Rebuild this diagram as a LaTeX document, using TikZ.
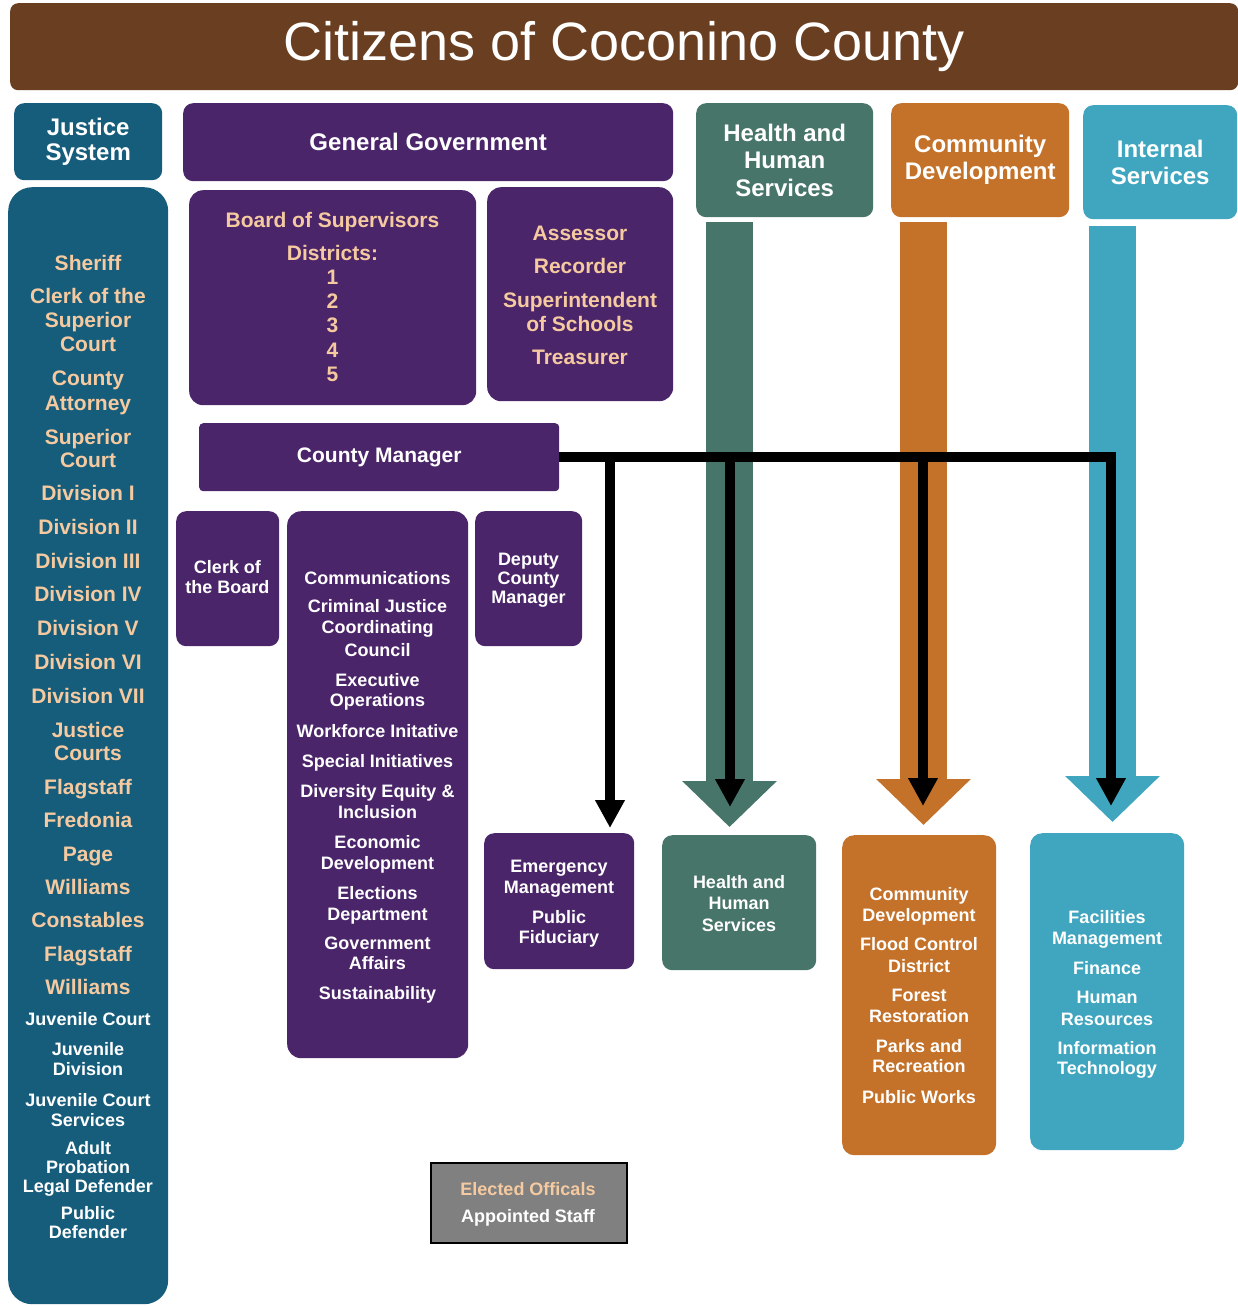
\documentclass[tikz,border=0pt]{standalone}
\usepackage{fontspec}
\setmainfont{Liberation Sans}
\usetikzlibrary{arrows.meta}
\definecolor{cbrown}{RGB}{106,62,32}
\definecolor{cjust}{RGB}{22,93,124}
\definecolor{cpurple}{RGB}{75,37,105}
\definecolor{cgreen}{RGB}{71,117,106}
\definecolor{corange}{RGB}{196,114,42}
\definecolor{clblue}{RGB}{64,166,191}
\definecolor{cpeach}{RGB}{245,202,160}
\definecolor{cgray}{RGB}{128,128,128}
\begin{document}
\begin{tikzpicture}[x=1pt,y=-1pt,
  box/.style={draw=none, rounded corners=10pt, anchor=north west, inner sep=0pt, text=white, align=center},
  hdr/.style={font=\bfseries\fontsize{24}{27}\selectfont},
  ta/.style={font=\bfseries\fontsize{21}{24}\selectfont, inner sep=0pt, anchor=base},
  tb/.style={font=\bfseries\fontsize{18}{20}\selectfont, inner sep=0pt, anchor=base},
  fat/.style={line width=47pt, -{Triangle[width=92pt,length=46pt]}},
  blk/.style={line width=10pt, draw=black, line join=miter},
  blkarr/.style={blk, -{Triangle[width=28pt,length=28pt]}}]
\useasboundingbox (0,0) rectangle (1238,1306);

% title
\node[box, fill=cbrown, rounded corners=8pt, minimum width=1228pt, minimum height=87pt,
  font=\fontsize{54}{60}\selectfont] (title) at (10,3) {Citizens of Coconino County};

% headers
\node[box, fill=cjust, minimum width=148pt, minimum height=77pt, hdr, font=\bfseries\fontsize{24}{25}\selectfont] (js) at (14,103) {Justice\\System};
\node[box, fill=cpurple, minimum width=490pt, minimum height=78pt, hdr] (gg) at (183,103) {General Government};
\node[box, fill=cgreen, minimum width=177pt, minimum height=114pt, hdr, font=\bfseries\fontsize{24}{27.5}\selectfont] (hhs) at (696,103) {Health and\\Human\\Services};
\node[box, fill=corange, minimum width=178pt, minimum height=114pt, hdr] (cd) at (891,103) {Community\\Development};
\node[box, fill=clblue, minimum width=154pt, minimum height=114pt, hdr] (is) at (1083,105) {Internal\\Services};

% body boxes
\node[box, fill=cjust, rounded corners=24pt, minimum width=160pt, minimum height=1117pt] (jl) at (8,187) {};
\node[box, fill=cpurple, rounded corners=14pt, minimum width=287pt, minimum height=215pt] (bos) at (189,190) {};
\node[box, fill=cpurple, rounded corners=14pt, minimum width=186pt, minimum height=214pt] (ass) at (487,187) {};
\node[box, fill=cpurple, rounded corners=4pt, minimum width=360pt, minimum height=68pt,
  font=\bfseries\fontsize{21}{24}\selectfont] (cm) at (199,423) {County Manager};
\node[box, fill=cpurple, minimum width=103pt, minimum height=135pt] (clb) at (176,511) {};
\node[box, fill=cpurple, rounded corners=14pt, minimum width=181pt, minimum height=547pt] (ops) at (287,511) {};
\node[box, fill=cpurple, minimum width=107pt, minimum height=135pt] (dcm) at (475,511) {};
\node[box, fill=cpurple, minimum width=150pt, minimum height=136pt] (em) at (484,833) {};
\node[box, fill=cgreen, minimum width=154pt, minimum height=135pt] (hhsl) at (662,835) {};
\node[box, fill=corange, rounded corners=12pt, minimum width=154pt, minimum height=320pt] (cdl) at (842,835) {};
\node[box, fill=clblue, rounded corners=12pt, minimum width=154pt, minimum height=317pt] (isl) at (1030,833) {};
\node[box, fill=cgray, draw=black, line width=1.5pt, rounded corners=0pt, minimum width=196pt, minimum height=80pt] (leg) at (430,1162) {};

% fat arrows
\coordinate (fa1) at (729.5,222); \coordinate (fb1) at (729.5,827);
\coordinate (fa2) at (923.5,222); \coordinate (fb2) at (923.5,825);
\coordinate (fa3) at (1112.5,226); \coordinate (fb3) at (1112.5,822);
\draw[fat, draw=cgreen, fill=cgreen] (fa1) -- (fb1);
\draw[fat, draw=corange, fill=corange] (fa2) -- (fb2);
\draw[fat, draw=clblue, fill=clblue] (fa3) -- (fb3);

% black connectors
\coordinate (j1) at (610,457); \coordinate (t1) at (610,828);
\coordinate (j2) at (730,457); \coordinate (t2) at (730,807);
\coordinate (j3) at (923,457); \coordinate (t3) at (923,806);
\coordinate (t4) at (1111,806);
\draw[blkarr] (cm.east) -| (t4);
\draw[blkarr] (j1) -- (t1);
\draw[blkarr] (j2) -- (t2);
\draw[blkarr] (j3) -- (t3);

% justice list
\foreach \ty/\tx [count=\i] in {263/Sheriff,296/Clerk of the,320/Superior,344/Court,378/County,403/Attorney,437/Superior,460/Court,493/Division I,527/Division II,561/Division III,594/Division IV,628/Division V,662/Division VI,696/Division VII,730/Justice,753/Courts,787/Flagstaff,820/Fredonia,854/Page,887/Williams,920/Constables,954/Flagstaff,987/Williams}
  \node[ta, text=cpeach] (ja\i) at (88,\ty+7) {\tx};
\foreach \ty/\tx [count=\i] in {1019/Juvenile Court,1049/Juvenile,1069/Division,1100/Juvenile Court,1120/Services,1148/Adult,1167/Probation,1186/Legal Defender,1213/Public,1232/Defender}
  \node[tb, text=white] (jb\i) at (88,\ty+6.5) {\tx};

% board of supervisors
\foreach \ty/\tx [count=\i] in {220/Board of Supervisors,253/Districts:,277/1,301/2,325/3,350/4,374/5}
  \node[ta, text=cpeach] (bs\i) at (332.5,\ty+7) {\tx};
% assessor etc
\foreach \ty/\tx [count=\i] in {233/Assessor,266/Recorder,300/Superintendent,324/of Schools,357/Treasurer}
  \node[ta, text=cpeach] (as\i) at (580,\ty+7) {\tx};

% clerk of the board
\foreach \ty/\tx [count=\i] in {567/Clerk of,587/the Board}
  \node[tb, text=white] (cb\i) at (227.5,\ty+6.5) {\tx};
% operations list
\foreach \ty/\tx [count=\i] in {578/Communications,606/Criminal Justice,627/Coordinating,650/Council,680/Executive,700/Operations,731/Workforce Initative,761/Special Initiatives,791/Diversity Equity \&,812/Inclusion,842/Economic,863/Development,893/Elections,914/Department,943/Government,963/Affairs,993/Sustainability}
  \node[tb, text=white] (op\i) at (377.5,\ty+6.5) {\tx};
% deputy
\foreach \ty/\tx [count=\i] in {559/Deputy,578/County,597/Manager}
  \node[tb, text=white] (dc\i) at (528.5,\ty+6.5) {\tx};
% emergency
\foreach \ty/\tx [count=\i] in {866/Emergency,887/Management,917/Public,937/Fiduciary}
  \node[tb, text=white] (e\i) at (559,\ty+6.5) {\tx};
% hhs lower
\foreach \ty/\tx [count=\i] in {882/Health and,903/Human,925/Services}
  \node[tb, text=white] (h\i) at (739,\ty+6.5) {\tx};
% cd lower
\foreach \ty/\tx [count=\i] in {894/Community,915/Development,944/Flood Control,966/District,995/Forest,1016/Restoration,1046/Parks and,1066/Recreation,1097/Public Works}
  \node[tb, text=white] (c\i) at (919,\ty+6.5) {\tx};
% is lower
\foreach \ty/\tx [count=\i] in {917/Facilities,938/Management,968/Finance,997/Human,1019/Resources,1048/Information,1068/Technology}
  \node[tb, text=white] (s\i) at (1107,\ty+6.5) {\tx};

% legend
\node[tb, text=cpeach] (l1) at (528,1189+6.5) {Elected Officals};
\node[tb, text=white] (l2) at (528,1216+6.5) {Appointed Staff};
\end{tikzpicture}
\end{document}
